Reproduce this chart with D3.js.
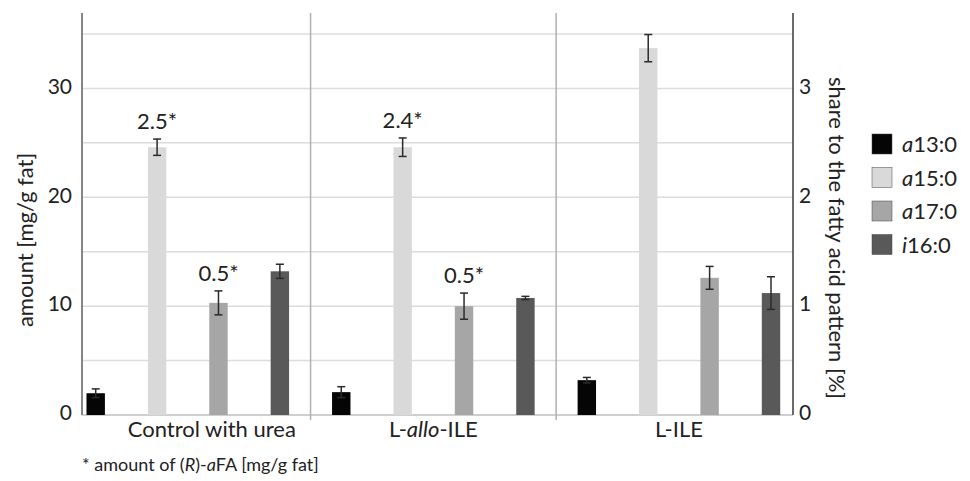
<!DOCTYPE html>
<html>
<head>
<meta charset="utf-8">
<script src="https://cdn.jsdelivr.net/npm/d3@7"></script>
<style>
  body { margin: 0; background: #fff; }
  text { font-family: Lato, "Open Sans", sans-serif; fill: #222; }
</style>
</head>
<body>
<div id="main-canvas"></div>
<script>
// Data
const categories = ["Control with urea", "L-allo-ILE", "L-ILE"];
const series = ["a13:0", "a15:0", "a17:0", "i16:0"];
// means per category, in series order
const means = [
    [2.0, 24.6, 10.3, 13.2],
    [2.1, 24.6, 10.0, 10.75],
    [3.2, 33.7, 12.6, 11.2]
];
const errors = [
    [0.4, 0.75, 1.1, 0.65],
    [0.5, 0.85, 1.2, 0.15],
    [0.25, 1.25, 1.05, 1.5]
];
// (R)-aFA amounts written above a15:0 and a17:0
const rLabels = [
    ["", "2.5*", "0.5*", ""],
    ["", "2.4*", "0.5*", ""],
    ["", "", "", ""]
];
const leftTicks = [0, 10, 20, 30];
const rightTicks = [0, 1, 2, 3];
const gridValues = [5, 10, 15, 20, 25, 30, 35];

let width = 970, height = 481;

let svg = d3.select("#main-canvas").append("svg")
    .attr("width", width)
    .attr("height", height)

const color = d3.scaleOrdinal().domain(series)
    .range(["#050505", "#d9d9d9", "#a6a6a6", "#595959"]);

// plot frame
const axisLeft = 82, axisRight = 793, base = 415, plotTop = 13;

let y = d3.scaleLinear().domain([0, 35]).range([base, 34]);
let yRight = d3.scaleLinear().domain([0, 3.5]).range([base, 34]);

let x0 = d3.scaleBand().domain(categories).range([65, 801.7]);
let x1 = d3.scaleBand().domain(series).range([0, x0.bandwidth()]);
const barW = x1.bandwidth() * 0.3;

// horizontal gridlines
svg.append("g").selectAll("line")
    .data(gridValues)
    .enter().append("line")
    .attr("x1", axisLeft).attr("x2", axisRight)
    .attr("y1", d => y(d)).attr("y2", d => y(d))
    .attr("stroke", "#dcdcdc")
    .attr("stroke-width", 1.5);

// baseline
svg.append("line")
    .attr("x1", axisLeft).attr("x2", axisRight)
    .attr("y1", y(0)).attr("y2", y(0))
    .attr("stroke", "#cfcfcf")
    .attr("stroke-width", 2);

// group dividers
svg.append("g").selectAll("line")
    .data(categories.slice(1))
    .enter().append("line")
    .attr("x1", d => x0(d)).attr("x2", d => x0(d))
    .attr("y1", plotTop).attr("y2", base + 5)
    .attr("stroke", "#b0b0b0")
    .attr("stroke-width", 1.5);

// axis lines
svg.append("line")
    .attr("x1", axisLeft).attr("x2", axisLeft)
    .attr("y1", plotTop).attr("y2", base)
    .attr("stroke", "#858585").attr("stroke-width", 2);
svg.append("line")
    .attr("x1", axisRight).attr("x2", axisRight)
    .attr("y1", plotTop).attr("y2", base)
    .attr("stroke", "#3a3a3a").attr("stroke-width", 1.5);

// bars
let rows = [];
categories.forEach((c, i) => {
    series.forEach((s, j) => {
        rows.push({ cat: c, key: s, value: means[i][j], err: errors[i][j], label: rLabels[i][j] });
    });
});

let groups = svg.append("g").selectAll("g")
    .data(rows)
    .enter().append("g")
    .attr("transform", d => "translate(" + (x0(d.cat) + x1(d.key) + x1.bandwidth() / 2) + ",0)");

groups.append("rect")
    .attr("x", -barW / 2)
    .attr("width", barW)
    .attr("y", d => y(d.value))
    .attr("height", d => y(0) - y(d.value))
    .attr("fill", d => color(d.key));

// error bars
groups.append("line")
    .attr("x1", 0).attr("x2", 0)
    .attr("y1", d => y(d.value - d.err)).attr("y2", d => y(d.value + d.err))
    .attr("stroke", "#2b2b2b").attr("stroke-width", 1.5);
groups.selectAll(".cap")
    .data(d => [d.value - d.err, d.value + d.err])
    .enter().append("line")
    .attr("x1", -4).attr("x2", 4)
    .attr("y1", v => y(v)).attr("y2", v => y(v))
    .attr("stroke", "#2b2b2b").attr("stroke-width", 1.5);

groups.filter(d => d.label !== "").append("text")
    .attr("text-anchor", "middle")
    .attr("y", d => y(d.value + d.err) - 10)
    .style("font-size", "22px")
    .text(d => d.label);

// tick labels
svg.append("g").selectAll("text")
    .data(leftTicks)
    .enter().append("text")
    .attr("x", 72).attr("y", d => y(d))
    .attr("dy", "0.25em")
    .attr("text-anchor", "end")
    .style("font-size", "21px")
    .text(d => d);
svg.append("g").selectAll("text")
    .data(rightTicks)
    .enter().append("text")
    .attr("x", 799).attr("y", d => yRight(d))
    .attr("dy", "0.25em")
    .style("font-size", "21px")
    .text(d => d);

// category labels (the first one sits a little right of its group centre)
svg.append("g").selectAll("text")
    .data(categories)
    .enter().append("text")
    .attr("x", d => x0(d) + x0.bandwidth() / 2)
    .attr("dx", (d, i) => i === 0 ? 24 : 0)
    .attr("y", 437)
    .attr("text-anchor", "middle")
    .style("font-size", "22px")
    .each(function (d) {
        let t = d3.select(this);
        if (d === "L-allo-ILE") {
            t.append("tspan").text("L-");
            t.append("tspan").style("font-style", "italic").text("allo");
            t.append("tspan").text("-ILE");
        } else {
            t.text(d);
        }
    });

// axis titles
svg.append("text")
    .attr("transform", "translate(33,240) rotate(-90)")
    .attr("text-anchor", "middle")
    .style("font-size", "22px")
    .text("amount [mg/g fat]");
svg.append("text")
    .attr("transform", "translate(829,238) rotate(90)")
    .attr("text-anchor", "middle")
    .style("font-size", "22px")
    .text("share to the fatty acid pattern [%]");

// footnote
let foot = svg.append("text")
    .attr("x", 82).attr("y", 471)
    .style("font-size", "18px");
foot.append("tspan").text("* amount of (");
foot.append("tspan").style("font-style", "italic").text("R");
foot.append("tspan").text(")-");
foot.append("tspan").style("font-style", "italic").text("a");
foot.append("tspan").text("FA [mg/g fat]");

// legend
let legend = svg.append("g").selectAll("g")
    .data(series)
    .enter().append("g")
    .attr("transform", (d, i) => "translate(872," + (134 + i * 33.5) + ")");

legend.append("rect")
    .attr("width", 20).attr("height", 20)
    .attr("fill", d => color(d))
    .attr("stroke", "#444").attr("stroke-width", 0.5);

legend.append("text")
    .attr("x", 30).attr("y", 18)
    .style("font-size", "22px")
    .each(function (d) {
        let t = d3.select(this);
        t.append("tspan").style("font-style", "italic").text(d.slice(0, 1));
        t.append("tspan").text(d.slice(1));
    });
</script>
</body>
</html>
